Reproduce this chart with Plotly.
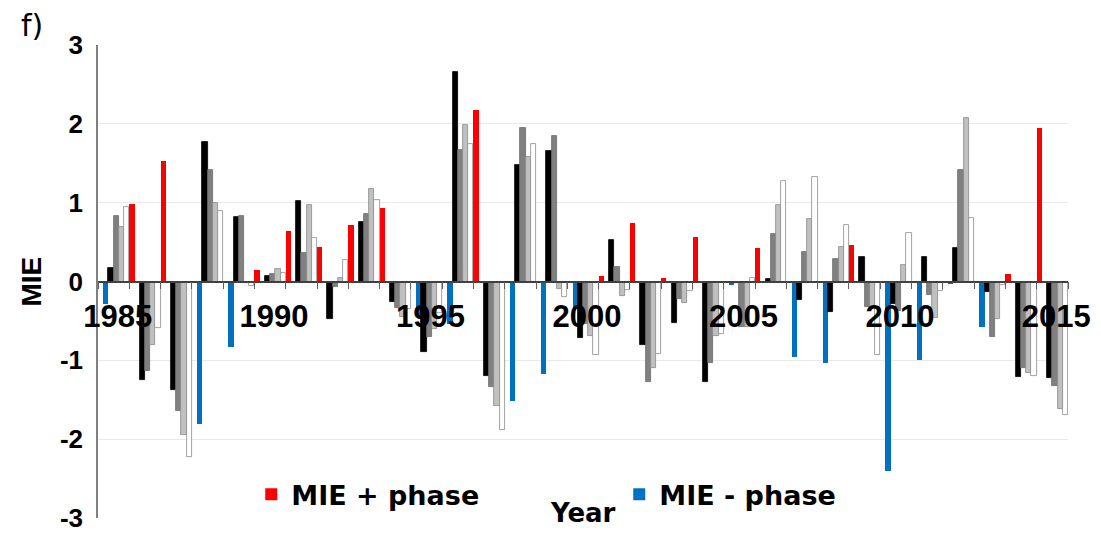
import plotly.graph_objects as go

years = list(range(1985, 2016))

mie_pos = [None, 0.98, 1.53, None, None, 0.14, 0.64, 0.44, 0.72, 0.93,
           None, None, 2.17, None, None, None, 0.07, 0.74, 0.04, 0.57,
           None, 0.42, None, None, 0.46, None, None, None, None, 0.10, 1.95]
mie_neg = [-0.29, None, None, -1.81, -0.83, None, None, None, None, None,
           -0.45, -0.54, None, -1.52, -1.17, -0.33, None, None, None, None,
           -0.04, None, -0.96, -1.03, None, -2.41, -0.99, -0.03, -0.58, None, None]
black = [0.17, -1.25, -1.37, 1.77, 0.82, 0.07, 1.02, -0.48, 0.75, -0.26,
         -0.90, 2.66, -1.20, 1.48, 1.66, -0.72, 0.53, -0.80, -0.53, -1.28,
         -0.02, 0.03, -0.24, -0.39, 0.31, -0.29, 0.31, 0.42, -0.13, -1.21, -1.23]
dark_gray = [0.83, -1.14, -1.64, 1.41, 0.83, 0.10, 0.36, -0.07, 0.86, -0.33,
             -0.70, 1.67, -1.34, 1.95, 1.84, -0.54, 0.18, -1.28, -0.22, -1.03,
             -0.58, 0.60, 0.38, 0.28, -0.32, -0.37, -0.17, 1.42, -0.70, -1.10, -1.33]
light_gray = [0.69, -0.80, -1.95, 1.00, -0.02, 0.16, 0.97, 0.04, 1.17, -0.45,
              -0.60, 1.98, -1.58, 1.58, -0.10, -0.69, -0.19, -1.10, -0.27, -0.69,
              -0.58, 0.97, 0.79, 0.44, -0.33, 0.21, -0.46, 2.08, -0.48, -1.16, -1.62]
white = [0.95, -0.59, -2.23, 0.90, -0.06, 0.11, 0.55, 0.27, 1.03, -0.35,
         -0.40, 1.75, -1.88, 1.75, -0.20, -0.93, -0.11, -0.92, -0.12, -0.66,
         0.04, 1.27, 1.32, 0.72, -0.93, 0.61, -0.12, 0.80, -0.04, -1.20, -1.69]

x_tick_vals = [1985, 1990, 1995, 2000, 2005, 2010, 2015]
x_tick_text = ["1985", "1990", "1995", "2000", "2005", "2010", "2015"]
y_tick_vals = [3, 2, 1, 0, -1, -2, -3]
y_tick_text = ["3", "2", "1", "0", "-1", "-2", "-3"]

fig = go.Figure()
fig.add_trace(go.Bar(x=years, y=mie_pos, name="MIE + phase",
                     marker=dict(color="#ff0000", line=dict(width=0))))
fig.add_trace(go.Bar(x=years, y=mie_neg, name="MIE - phase",
                     marker=dict(color="#0070c0", line=dict(width=0))))
for vals, col, lc in [(black, "#000000", "#000000"),
                      (dark_gray, "#808080", "#6a6a6a"),
                      (light_gray, "#c0c0c0", "#8a8a8a"),
                      (white, "#ffffff", "#8a8a8a")]:
    fig.add_trace(go.Bar(x=years, y=vals, showlegend=False,
                         marker=dict(color=col, line=dict(width=0.8, color=lc))))

fig.update_layout(
    width=1093, height=526,
    margin=dict(l=90, r=33, t=37, b=16, autoexpand=False),
    paper_bgcolor="white", plot_bgcolor="white",
    barmode="group", bargap=0.0, bargroupgap=0.0,
    showlegend=True,
    legend=dict(orientation="h", x=0.158, xanchor="left", y=0.049, yanchor="middle",
                entrywidth=323, bgcolor="rgba(0,0,0,0)",
                font=dict(family="DejaVu Sans", size=27, color="black", weight="bold")),
    xaxis=dict(
        range=[1984.5, 2015.5], tickmode="array", tickvals=x_tick_vals, ticktext=x_tick_text,
        ticks="", showgrid=False, zeroline=False, automargin=False,
        showline=True, linecolor="#404040", linewidth=1.5,
        anchor="free", position=0.5,
        ticklabelstandoff=8, ticklabelshift=4,
        tickfont=dict(family="Liberation Sans", size=31, color="black", weight="bold"),
        minor=dict(tickmode="linear", tick0=1984.5, dtick=1, ticks="outside",
                   ticklen=7, tickcolor="#606060", tickwidth=1, showgrid=False),
    ),
    yaxis=dict(
        range=[-3, 3], tickmode="array", tickvals=y_tick_vals, ticktext=y_tick_text,
        showgrid=True, gridcolor="#e9e9e9", gridwidth=1, zeroline=False, automargin=False,
        showline=True, linecolor="#808080", linewidth=1.5, ticks="",
        ticklabelstandoff=8,
        tickfont=dict(family="Liberation Sans", size=26, color="black", weight="bold"),
    ),
    annotations=[
        dict(text="MIE", xref="paper", yref="paper", x=-0.069, y=0.5, textangle=-90,
             showarrow=False, xanchor="center", yanchor="middle",
             font=dict(family="Liberation Sans", size=28, color="black", weight="bold")),
        dict(text="Year", xref="paper", yref="paper", x=0.5, y=0, yshift=5,
             showarrow=False, xanchor="center", yanchor="middle",
             font=dict(family="DejaVu Sans", size=26, color="black", weight="bold")),
        dict(text="f)", xref="paper", yref="paper", x=-0.068, y=1.042,
             showarrow=False, xanchor="center", yanchor="middle",
             font=dict(family="DejaVu Sans", size=30, color="black")),
    ],
)

fig.write_html("out.html")
